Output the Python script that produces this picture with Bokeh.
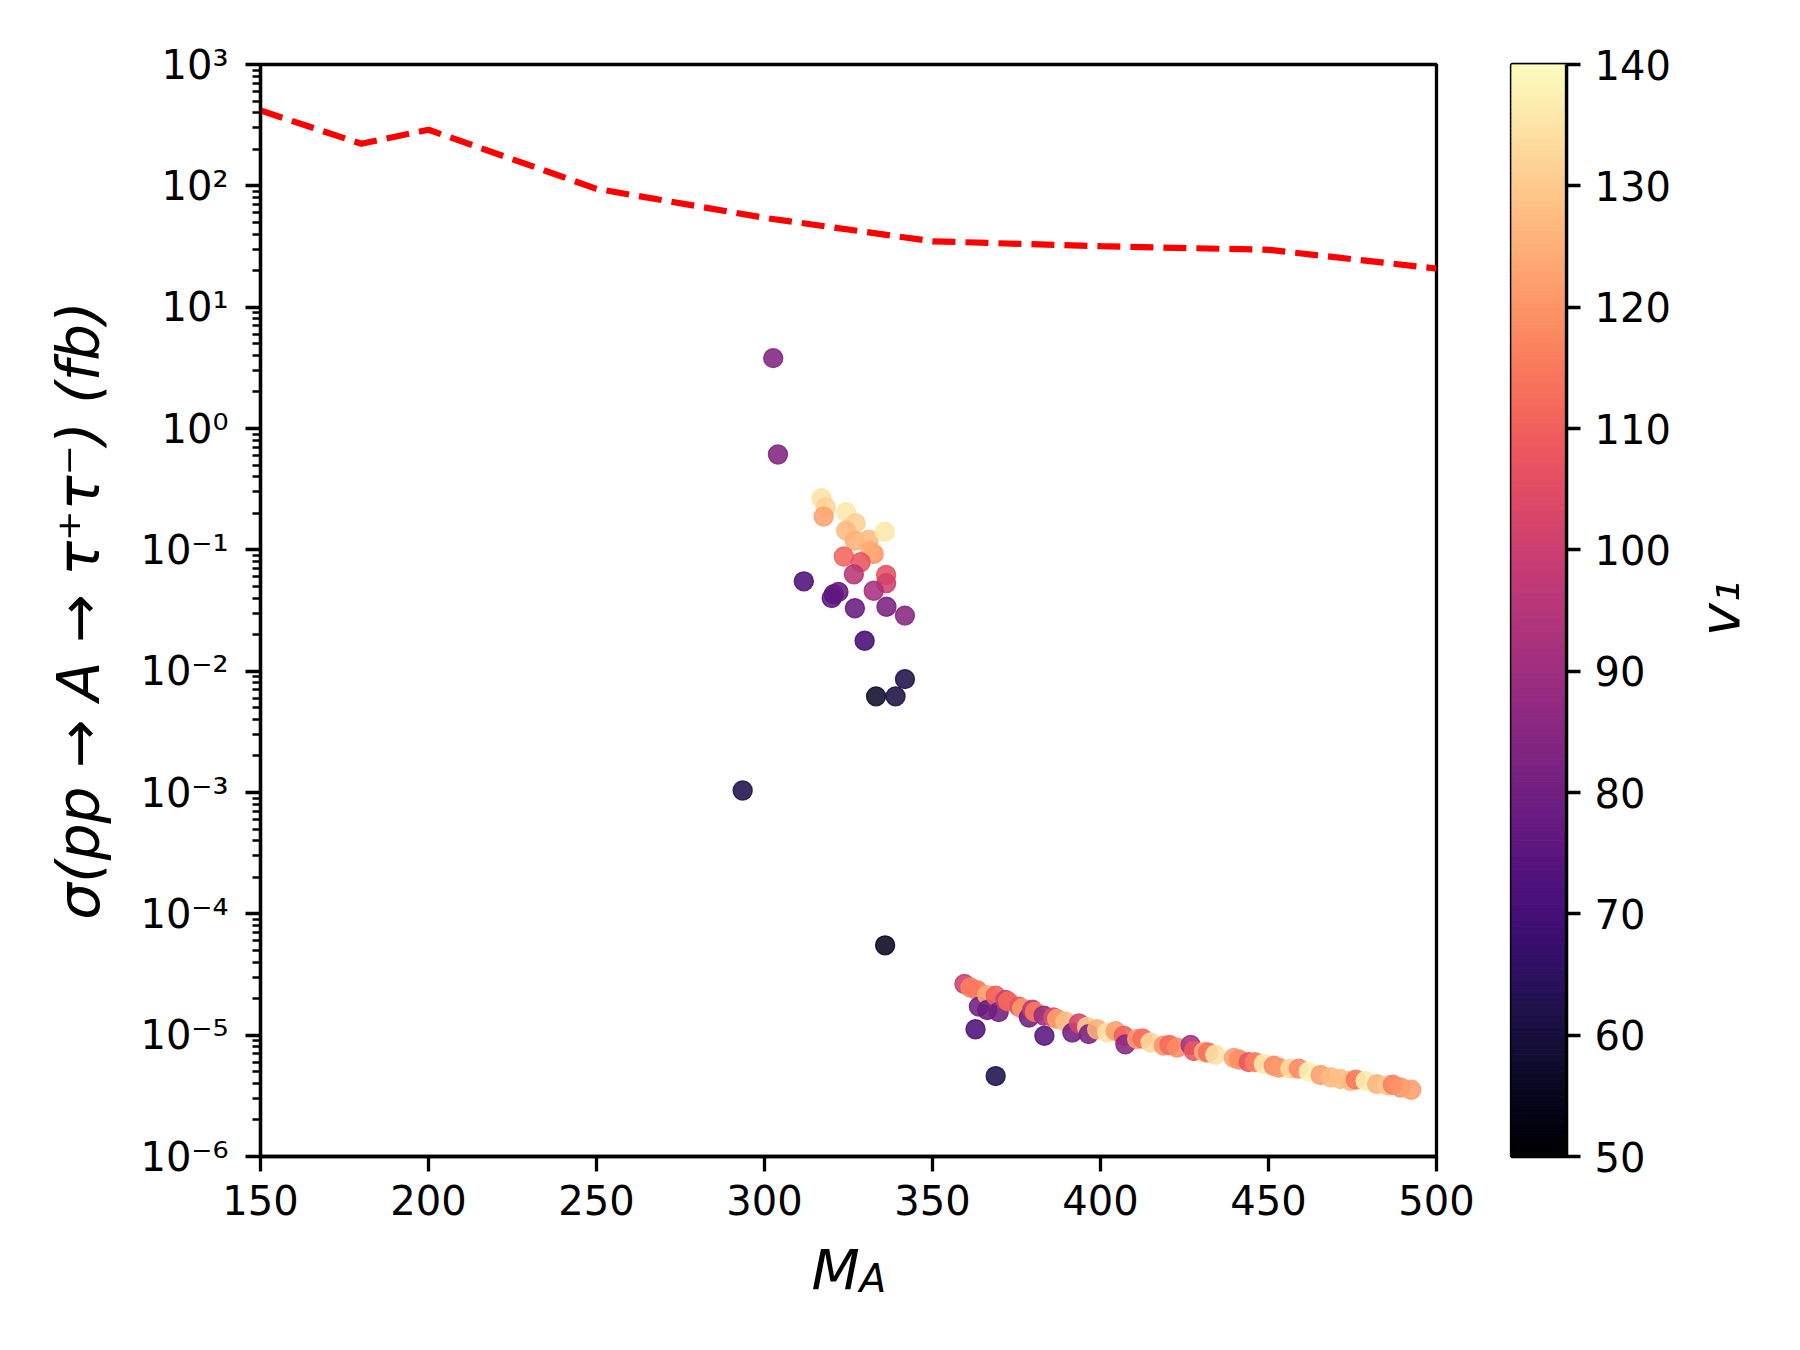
import numpy as np
from bokeh.plotting import figure
from bokeh.layouts import row
from bokeh.models import (ColumnDataSource, LinearColorMapper, FixedTicker,
                          CustomJSTickFormatter, Label, Range1d)
from bokeh.palettes import Magma256
from bokeh.embed import file_html
from bokeh.resources import INLINE
import math

# ---------------- data ----------------
# exclusion limit (red dashed line)
limit_mA = [150, 180, 200, 250, 300, 350, 400, 450, 500]
limit_sigma = [418, 222, 290, 94.5, 54.5, 34.9, 31.8, 29.7, 20.8]

# scan points: M_A, sigma (fb), v1
pts_mA = [302.6, 304.0, 293.5, 335.9,
          317.0, 318.2, 317.6, 324.3, 327.1, 324.3, 326.9, 331.0, 335.8, 332.5,
          331.5, 323.6, 328.6, 326.6, 336.2, 336.2, 332.5, 311.7, 320.6, 322.0,
          320.0, 326.9, 336.3, 341.8, 329.8, 341.8, 333.2, 339.0,
          359.5, 361.3, 363.3, 362.8, 363.8, 366.3, 366.3, 368.8, 368.8, 369.7,
          371.7, 372.5, 375.7, 376.7, 378.7, 379.7, 380.5, 383.1, 383.3, 386.0,
          387.1, 389.6, 391.6, 393.6, 396.0, 396.5, 399.0, 402.0, 404.5, 406.9,
          407.4, 410.9, 412.5, 414.9, 418.8, 420.5, 422.8, 426.8, 427.8, 430.8,
          432.0, 434.2, 439.7, 441.2, 444.1, 446.0, 448.6, 451.6, 453.1, 456.5,
          459.0, 462.0, 465.5, 468.5, 471.4, 474.4, 476.0, 478.9, 482.3, 485.5,
          487.0, 489.3, 492.5]
pts_sigma = [3.8, 0.61, 1.04e-3, 5.5e-5,
             0.266, 0.224, 0.188, 0.204, 0.166, 0.144, 0.119, 0.121, 0.141, 0.0925,
             0.098, 0.088, 0.079, 0.063, 0.062, 0.053, 0.046, 0.055, 0.043, 0.045,
             0.040, 0.033, 0.034, 0.0287, 0.0178, 0.0086, 0.0062, 0.0062,
             2.64e-5, 2.47e-5, 2.35e-5, 1.12e-5, 1.72e-5, 2.14e-5, 1.61e-5, 2.11e-5, 4.6e-6, 1.55e-5,
             1.95e-5, 1.9e-5, 1.72e-5, 1.66e-5, 1.40e-5, 1.62e-5, 1.55e-5, 1.45e-5, 9.9e-6, 1.4e-5,
             1.36e-5, 1.29e-5, 1.05e-5, 1.25e-5, 1.17e-5, 1.02e-5, 1.12e-5, 1.05e-5, 1.08e-5, 9.9e-6,
             8.4e-6, 9.3e-6, 9.4e-6, 8.7e-6, 8.2e-6, 8.3e-6, 7.9e-6, 8.3e-6, 7.4e-6, 7.3e-6,
             7.2e-6, 6.9e-6, 6.5e-6, 6.3e-6, 6.0e-6, 6.0e-6, 5.8e-6, 5.6e-6, 5.4e-6, 5.3e-6,
             5.3e-6, 5.0e-6, 4.7e-6, 4.5e-6, 4.35e-6, 4.2e-6, 4.3e-6, 4.2e-6, 3.95e-6, 3.85e-6,
             3.9e-6, 3.7e-6, 3.55e-6]
pts_v1 = [84, 84, 62, 55,
          135, 132, 123, 136, 131, 127, 125, 127, 136, 120,
          124, 111, 107, 96, 106, 101, 92, 72, 76, 77,
          76, 78, 82, 85, 70, 62, 58, 61,
          100, 116, 115, 72, 80, 124, 78, 110, 62, 80,
          100, 112, 108, 121, 80, 98, 115, 88, 75, 105,
          122, 128, 80, 102, 130, 82, 125, 135, 122, 110,
          85, 122, 112, 133, 120, 112, 118, 92, 108, 125,
          113, 135, 122, 119, 108, 116, 136, 118, 121, 133,
          118, 138, 122, 127, 128, 127, 115, 137, 126, 130,
          116, 120, 122]

x_ticks = [150, 200, 250, 300, 350, 400, 450, 500]
y_decades = [-6, -5, -4, -3, -2, -1, 0, 1, 2, 3]
cb_low, cb_high = 50, 140
cb_ticks = [50, 60, 70, 80, 90, 100, 110, 120, 130, 140]

# ---------------- styling constants ----------------
FONT = "DejaVu Sans"
TICK_FS = "40px"
LABEL_FS = "56px"
LW = 3.3

mapper = LinearColorMapper(palette=Magma256, low=cb_low, high=cb_high)

y_ticks = [10.0 ** d for d in y_decades]
y_minor = [k * 10.0 ** d for d in y_decades[:-1] for k in range(2, 10)]

p = figure(width=1480, height=1340, x_axis_type="linear", y_axis_type="log",
           x_range=Range1d(150, 500), y_range=Range1d(1e-6, 1e3),
           output_backend="svg", toolbar_location=None,
           min_border_left=260, min_border_right=44,
           min_border_top=64, min_border_bottom=184)
p.background_fill_color = "white"
p.border_fill_color = "white"
p.outline_line_color = "black"
p.outline_line_width = LW
p.grid.visible = False

p.line(limit_mA, limit_sigma, line_color="#ff0000", line_width=6.2, line_dash="23 10")

src = ColumnDataSource(dict(x=pts_mA, y=pts_sigma, v=pts_v1))
p.scatter("x", "y", source=src, size=19, marker="circle",
          fill_color={"field": "v", "transform": mapper},
          line_color={"field": "v", "transform": mapper},
          fill_alpha=0.88, line_alpha=0.88, line_width=1.4)

for ax in (p.xaxis[0], p.yaxis[0]):
    ax.axis_line_width = LW
    ax.major_tick_line_width = LW
    ax.minor_tick_line_width = 2.5
    ax.major_tick_in = 0
    ax.major_tick_out = 15
    ax.minor_tick_in = 0
    ax.minor_tick_out = 8
    ax.major_label_text_font = FONT
    ax.major_label_text_font_size = TICK_FS
    ax.major_label_text_color = "black"
    ax.major_label_standoff = 13
p.yaxis.major_label_standoff = 17

p.xaxis.ticker = FixedTicker(ticks=x_ticks, minor_ticks=[])
p.yaxis.ticker = FixedTicker(ticks=y_ticks, minor_ticks=y_minor)
p.yaxis.formatter = CustomJSTickFormatter(code="""
const e = Math.round(Math.log10(tick));
const sup = {'-':'\u207b','0':'\u2070','1':'\u00b9','2':'\u00b2','3':'\u00b3','4':'\u2074','5':'\u2075','6':'\u2076','7':'\u2077','8':'\u2078','9':'\u2079'};
return '10' + String(e).split('').map(c => sup[c]).join('');
""")
p.yaxis.axis_label = "σ(pp → A → τ⁺τ⁻) (fb)"
p.yaxis.axis_label_text_font = FONT
p.yaxis.axis_label_text_font_size = "58px"
p.yaxis.axis_label_text_font_style = "italic"
p.yaxis.axis_label_text_color = "black"
p.yaxis.axis_label_standoff = 24

# x-axis title M_A (italic M with subscript A), placed in the bottom side panel
p.add_layout(Label(x=811, y=1269, x_units="canvas", y_units="canvas", text="M",
                   text_font=FONT, text_font_size=LABEL_FS, text_font_style="italic",
                   text_baseline="alphabetic", text_align="left", text_color="black"),
             "below")
p.add_layout(Label(x=859, y=1278, x_units="canvas", y_units="canvas", text="A",
                   text_font=FONT, text_font_size="39px", text_font_style="italic",
                   text_baseline="alphabetic", text_align="left", text_color="black"),
             "below")

# ---------------- colorbar ----------------
cb = figure(width=312, height=1340, x_range=Range1d(0, 1),
            y_range=Range1d(cb_low, cb_high), y_axis_location="right",
            output_backend="svg", toolbar_location=None,
            min_border_left=31, min_border_right=226,
            min_border_top=64, min_border_bottom=184)
cb.grid.visible = False
cb.xaxis.visible = False
cb.outline_line_color = "black"
cb.outline_line_width = LW
edges = np.linspace(cb_low, cb_high, len(Magma256) + 1)
cb.quad(left=0, right=1, bottom=edges[:-1], top=edges[1:],
        fill_color=list(Magma256), line_color=list(Magma256), line_width=1)
cax = cb.yaxis[0]
cax.ticker = FixedTicker(ticks=cb_ticks, minor_ticks=[])
cax.axis_line_width = LW
cax.major_tick_line_width = LW
cax.major_tick_in = 0
cax.major_tick_out = 14
cax.major_label_text_font = FONT
cax.major_label_text_font_size = TICK_FS
cax.major_label_text_color = "black"
cax.major_label_standoff = 14

cb.add_layout(Label(x=239, y=608, x_units="canvas", y_units="canvas", text="v₁",
                    angle=math.pi / 2, text_font=FONT, text_font_size=LABEL_FS,
                    text_font_style="italic", text_align="center",
                    text_baseline="middle", text_color="black"),
              "right")

layout = row(p, cb)
open("out.html", "w").write(file_html(layout, INLINE))
